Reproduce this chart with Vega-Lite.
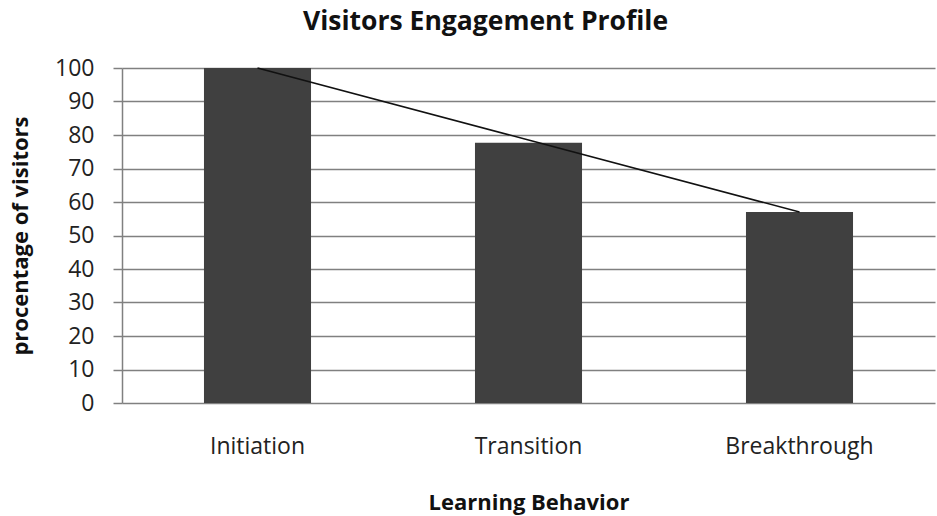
{
  "$schema": "https://vega.github.io/schema/vega-lite/v6.json",
  "width": 813,
  "height": 335,
  "autosize": {"type": "none"},
  "padding": {"left": 122, "top": 68, "right": 2, "bottom": 113},
  "background": "white",
  "title": {
    "text": "Visitors Engagement Profile",
    "font": "Open Sans",
    "fontSize": 26.5,
    "fontWeight": "bold",
    "color": "#111111",
    "anchor": "middle",
    "dx": -43,
    "offset": 22
  },
  "data": {
    "values": [
      {"behavior": "Initiation", "pct": 100, "trend": 100},
      {"behavior": "Transition", "pct": 77.7, "trend": 78.5},
      {"behavior": "Breakthrough", "pct": 57, "trend": 57}
    ]
  },
  "encoding": {
    "x": {
      "field": "behavior",
      "type": "nominal",
      "sort": null,
      "scale": {"paddingInner": 0.605, "paddingOuter": 0.3025},
      "axis": {
        "title": "Learning Behavior",
        "titleFont": "Open Sans",
        "titleFontSize": 22,
        "titleFontWeight": "bold",
        "titleColor": "#111111",
        "titleBaseline": "alphabetic",
        "titleY": 106,
        "labelFont": "Open Sans",
        "labelFontSize": 23,
        "labelColor": "#222222",
        "labelAngle": 0,
        "labelPadding": 32,
        "ticks": false,
        "domain": false,
        "grid": false
      }
    }
  },
  "layer": [
    {
      "mark": {"type": "bar", "color": "#404040"},
      "encoding": {
        "y": {
          "field": "pct",
          "type": "quantitative",
          "scale": {"domain": [0, 100], "nice": false},
          "axis": {
            "title": "procentage of visitors",
            "titleFont": "Open Sans",
            "titleFontSize": 22,
            "titleFontWeight": "bold",
            "titleColor": "#111111",
            "titleAngle": -90,
            "titleBaseline": "alphabetic",
            "titleX": -95,
            "titleY": 167.5,
            "labelFont": "Open Sans",
            "labelFontSize": 23,
            "labelColor": "#222222",
            "labelPadding": 19,
            "labelOverlap": false,
            "values": [0, 10, 20, 30, 40, 50, 60, 70, 80, 90, 100],
            "tickSize": 9,
            "tickColor": "#808080",
            "tickWidth": 1.5,
            "domainColor": "#808080",
            "domainWidth": 1.5,
            "grid": true,
            "gridColor": "#808080",
            "gridWidth": 1.5
          }
        }
      }
    },
    {
      "mark": {"type": "line", "color": "#111111", "strokeWidth": 1.5},
      "encoding": {
        "y": {
          "field": "trend",
          "type": "quantitative",
          "axis": {
            "title": "procentage of visitors",
            "titleFont": "Open Sans",
            "titleFontSize": 22,
            "titleFontWeight": "bold",
            "titleColor": "#111111",
            "titleAngle": -90,
            "titleBaseline": "alphabetic",
            "titleX": -95,
            "titleY": 167.5,
            "labelFont": "Open Sans",
            "labelFontSize": 23,
            "labelColor": "#222222",
            "labelPadding": 19,
            "labelOverlap": false,
            "values": [0, 10, 20, 30, 40, 50, 60, 70, 80, 90, 100],
            "tickSize": 9,
            "tickColor": "#808080",
            "tickWidth": 1.5,
            "domainColor": "#808080",
            "domainWidth": 1.5,
            "grid": true,
            "gridColor": "#808080",
            "gridWidth": 1.5
          }
        }
      }
    }
  ],
  "config": {
    "view": {"stroke": null}
  }
}
